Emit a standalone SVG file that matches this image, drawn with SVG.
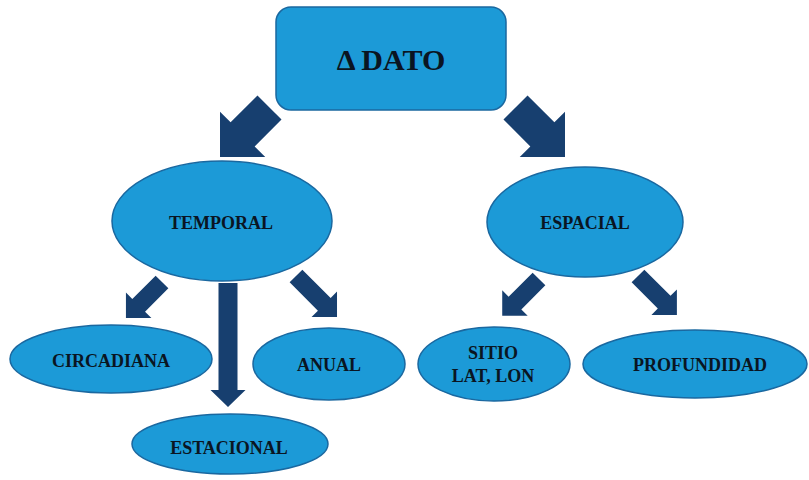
<svg xmlns="http://www.w3.org/2000/svg" width="809" height="480" viewBox="0 0 809 480">
<defs>
<style>
.n{fill:#1c9ad7;stroke:#1a68a0;stroke-width:1.5}
.t{font-family:"Liberation Serif","Times New Roman",serif;font-weight:bold;fill:#0a1522;text-anchor:middle;font-size:18px}
.a{fill:#173f6f}
</style>
</defs>
<rect width="809" height="480" fill="#ffffff"/>
<g id="connectors">
<path class="a" transform="translate(269.5,107.5) rotate(135)" d="M0,-17 L38,-17 L38,-32 L70,0 L38,32 L38,17 L0,17 Z"/>
<path class="a" transform="translate(515.5,107.5) rotate(45)" d="M0,-17 L38,-17 L38,-32 L70,0 L38,32 L38,17 L0,17 Z"/>
<path class="a" transform="translate(162,282) rotate(135)" d="M0,-9 L33,-9 L33,-18 L51,0 L33,18 L33,9 L0,9 Z"/>
<path class="a" transform="translate(228,283) rotate(90)" d="M0,-9.5 L107,-9.5 L107,-17.5 L124,0 L107,17.5 L107,9.5 L0,9.5 Z"/>
<path class="a" transform="translate(296,276) rotate(45)" d="M0,-9 L40,-9 L40,-18 L58,0 L40,18 L40,9 L0,9 Z"/>
<path class="a" transform="translate(539,279) rotate(135)" d="M0,-9 L34,-9 L34,-18 L52,0 L34,18 L34,9 L0,9 Z"/>
<path class="a" transform="translate(638,276) rotate(45)" d="M0,-9 L37,-9 L37,-18 L55,0 L37,18 L37,9 L0,9 Z"/>
</g>
<g id="dato">
<rect class="n" x="276" y="7" width="230" height="103" rx="15"/>
<text class="t" x="391" y="70" style="font-size:30px">Δ DATO</text>
</g>
<g id="temporal">
<ellipse class="n" cx="222" cy="221" rx="110" ry="60"/>
<text class="t" x="221" y="229">TEMPORAL</text>
</g>
<g id="espacial">
<ellipse class="n" cx="585" cy="222" rx="98" ry="55"/>
<text class="t" x="585" y="229">ESPACIAL</text>
</g>
<g id="circadiana">
<ellipse class="n" cx="111" cy="359" rx="101" ry="34"/>
<text class="t" x="111" y="367">CIRCADIANA</text>
</g>
<g id="anual">
<ellipse class="n" cx="329" cy="364" rx="76" ry="36"/>
<text class="t" x="329" y="371">ANUAL</text>
</g>
<g id="estacional">
<ellipse class="n" cx="230" cy="444" rx="98" ry="30"/>
<text class="t" x="229" y="454">ESTACIONAL</text>
</g>
<g id="sitio">
<ellipse class="n" cx="494" cy="364" rx="76" ry="37"/>
<text class="t" x="493" y="359">SITIO</text>
<text class="t" x="493" y="382">LAT, LON</text>
</g>
<g id="profundidad">
<ellipse class="n" cx="695" cy="364" rx="112" ry="34"/>
<text class="t" x="700" y="371">PROFUNDIDAD</text>
</g>
</svg>
